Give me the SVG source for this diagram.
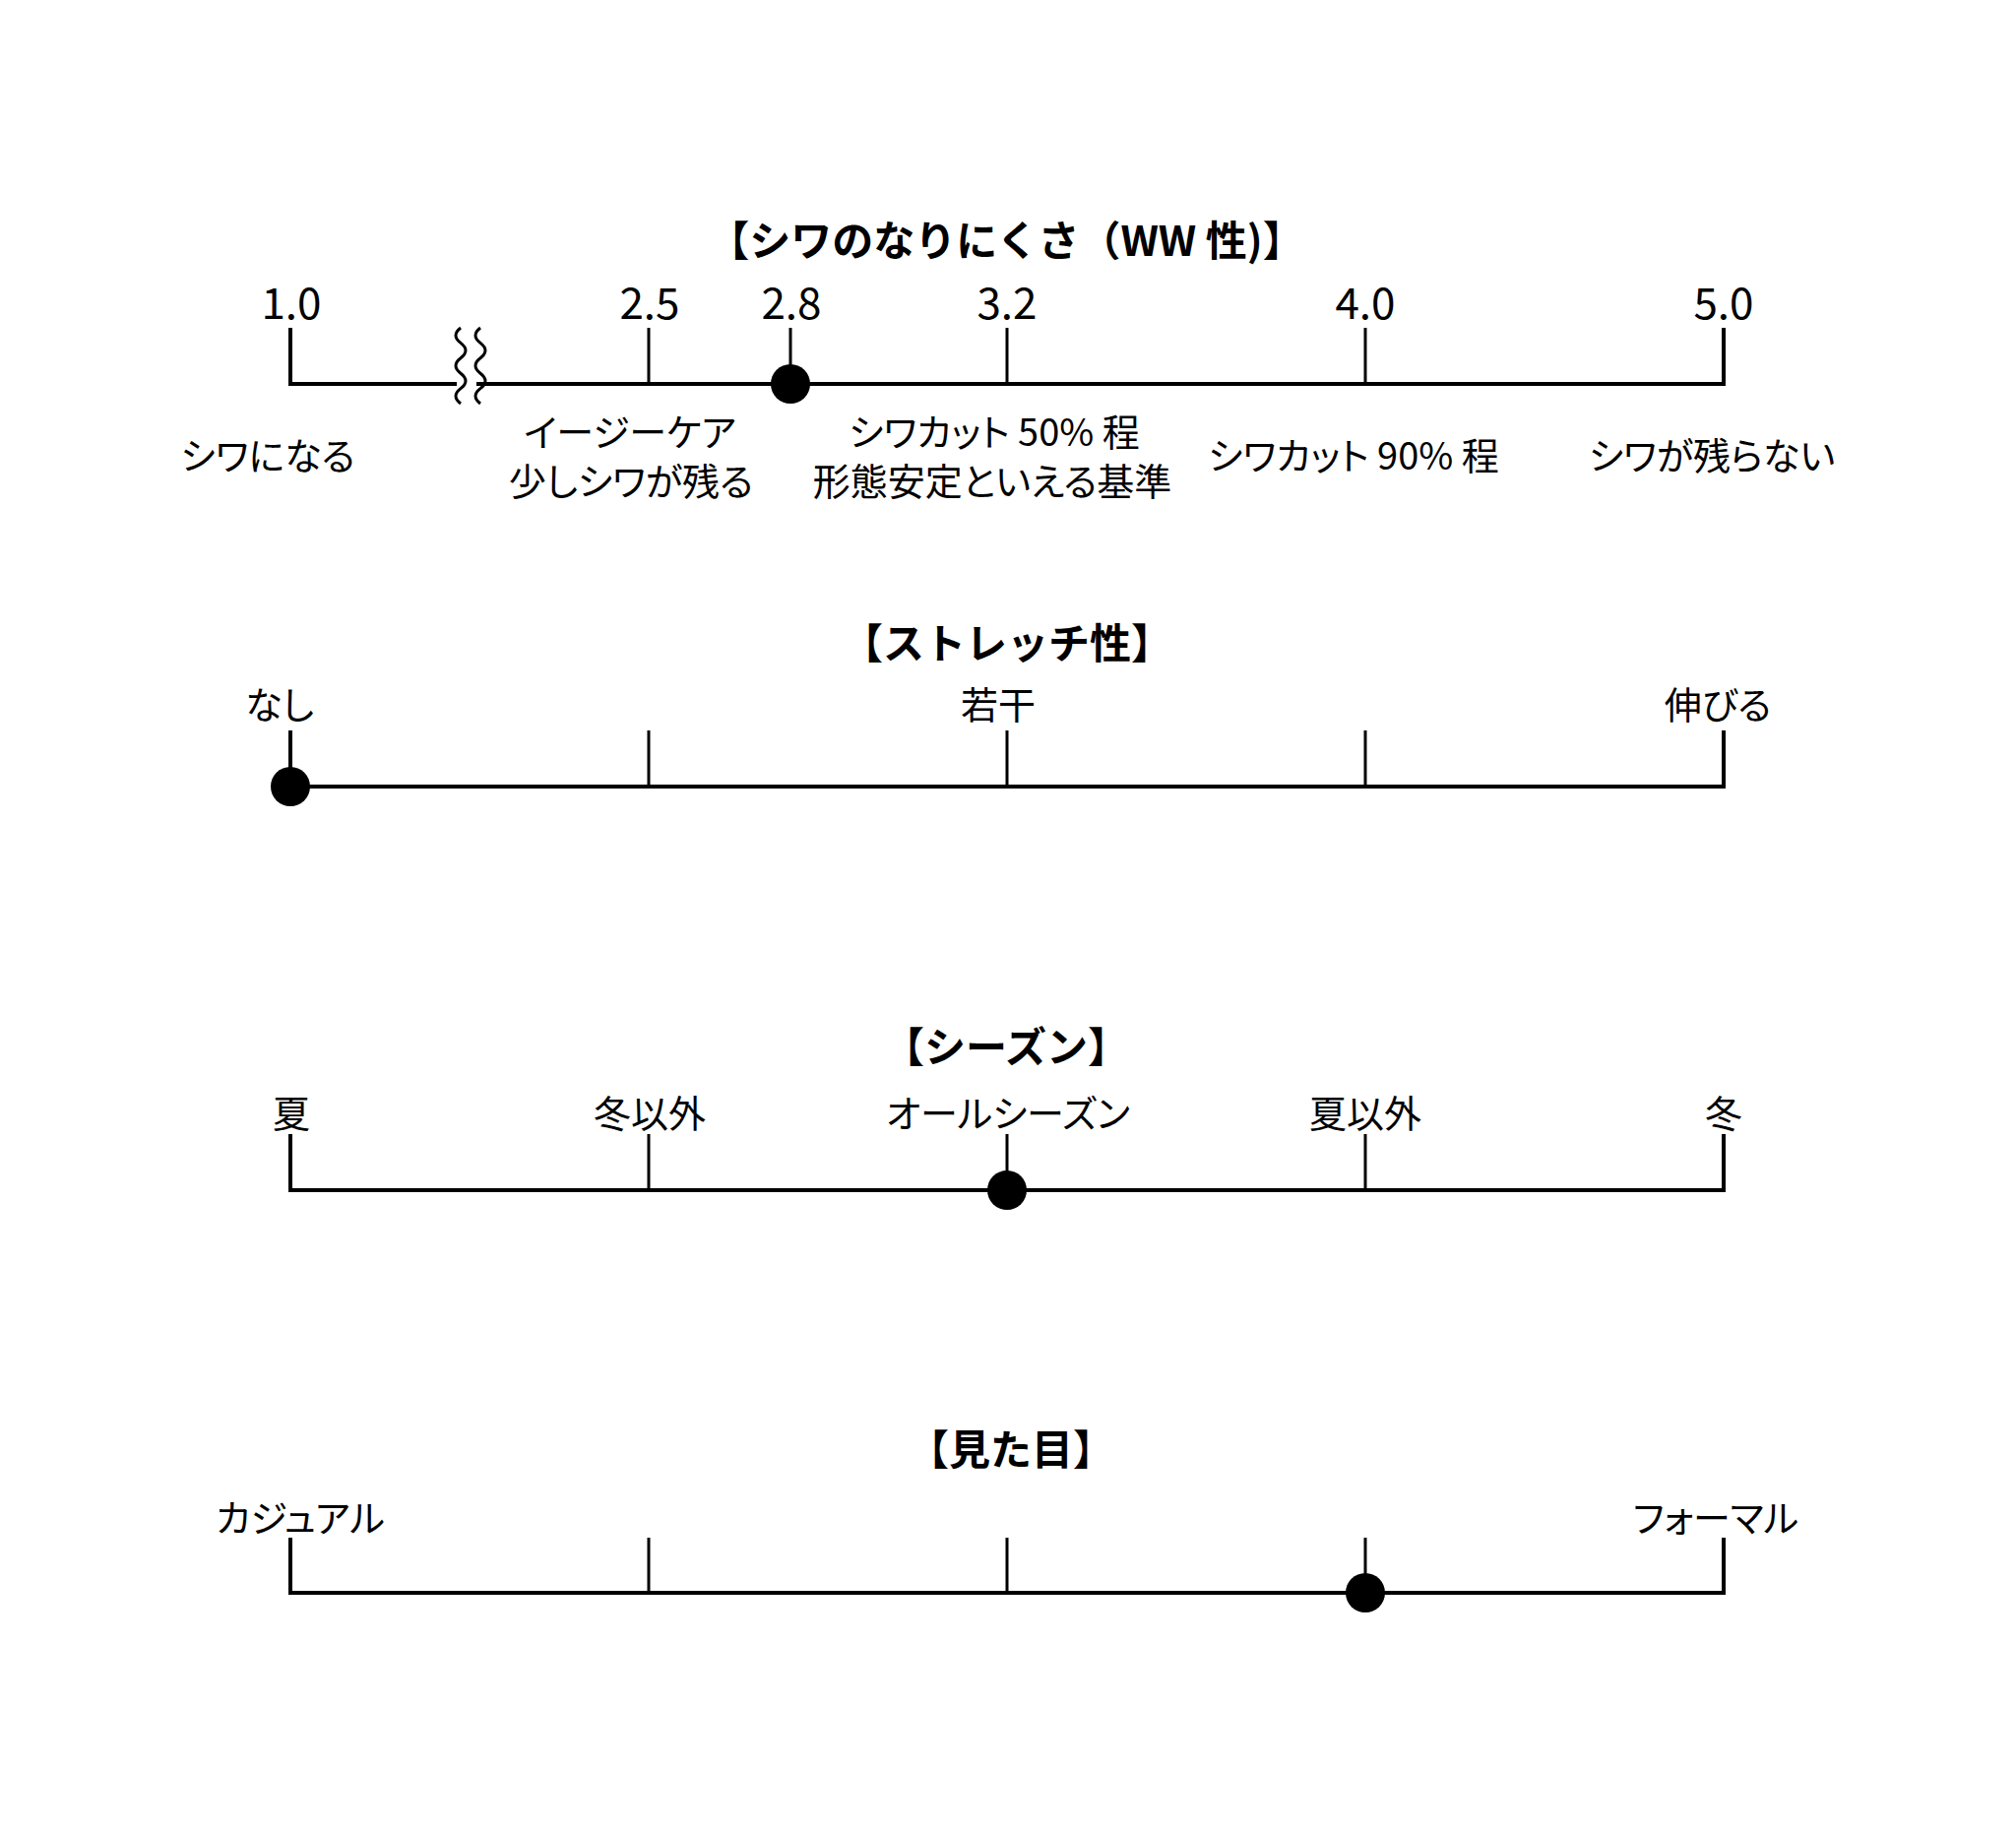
<svg xmlns="http://www.w3.org/2000/svg" width="2048" height="1862" viewBox="0 0 2048 1862">
  <style>
    .t { font-family: "Noto Sans CJK JP", "Noto Sans", sans-serif; font-size: 38px; fill: #000; text-anchor: middle; font-feature-settings: "palt"; }
    .n { font-family: "Noto Sans CJK JP", "Noto Sans", sans-serif; font-size: 44px; fill: #000; text-anchor: middle; }
    .h { font-family: "Noto Sans CJK JP", "Noto Sans", sans-serif; font-size: 42px; font-weight: 700; fill: #000; text-anchor: middle; }
    .ax { fill: none; stroke: #000; stroke-width: 4; stroke-linejoin: miter; stroke-linecap: butt; }
    .tk { fill: none; stroke: #000; stroke-width: 3; }
    .wv { fill: none; stroke: #000; stroke-width: 3; }
    .dot { fill: #000; }
  </style>
  <rect width="2048" height="1862" fill="#fff"/>

  <!-- Scale 1: wrinkle resistance -->
  <g id="scale-wrinkle">
    <text class="h" x="1022" y="260">【シワのなりにくさ（WW 性)】</text>
    <g id="axis-wrinkle">
      <path class="ax" d="M295 333 V390 H464"/>
      <path class="ax" d="M484 390 H1751 V333"/>
      <path class="tk" d="M659 333 V390 M803 333 V390 M1023 333 V390 M1387 333 V390"/>
      <path class="wv" d="M468 333 q -10 7.7 0 15.4 t 0 15.4 t 0 15.4 t 0 15.4 t 0 15.4"/>
      <path class="wv" d="M488 333 q -10 7.7 0 15.4 t 0 15.4 t 0 15.4 t 0 15.4 t 0 15.4"/>
      <circle class="dot" cx="803" cy="390" r="20"/>
    </g>
    <g id="ticks-wrinkle">
      <text class="n" x="296" y="324">1.0</text>
      <text class="n" x="660" y="324">2.5</text>
      <text class="n" x="804" y="324">2.8</text>
      <text class="n" x="1023" y="324">3.2</text>
      <text class="n" x="1387" y="324">4.0</text>
      <text class="n" x="1751" y="324">5.0</text>
    </g>
    <g id="desc-wrinkle">
      <text class="t" x="272" y="477">シワになる</text>
      <text class="t" x="640" y="453">イージーケア</text>
      <text class="t" x="641" y="503">少しシワが残る</text>
      <text class="t" x="1010" y="453">シワカット 50% 程</text>
      <text class="t" x="1008" y="503">形態安定といえる基準</text>
      <text class="t" x="1375" y="477">シワカット 90% 程</text>
      <text class="t" x="1739" y="477">シワが残らない</text>
    </g>
  </g>

  <!-- Scale 2: stretch -->
  <g id="scale-stretch">
    <text class="h" x="1023" y="669">【ストレッチ性】</text>
    <g id="axis-stretch">
      <path class="ax" d="M295 742 V799 H1751 V742"/>
      <path class="tk" d="M659 742 V799 M1023 742 V799 M1387 742 V799"/>
      <circle class="dot" cx="295" cy="799" r="20"/>
    </g>
    <text class="t" x="284" y="730">なし</text>
    <text class="t" x="1014" y="730">若干</text>
    <text class="t" x="1745" y="730">伸びる</text>
  </g>

  <!-- Scale 3: season -->
  <g id="scale-season">
    <text class="h" x="1022" y="1079">【シーズン】</text>
    <g id="axis-season">
      <path class="ax" d="M295 1152 V1209 H1751 V1152"/>
      <path class="tk" d="M659 1152 V1209 M1023 1152 V1209 M1387 1152 V1209"/>
      <circle class="dot" cx="1023" cy="1209" r="20"/>
    </g>
    <text class="t" x="296" y="1145">夏</text>
    <text class="t" x="660" y="1145">冬以外</text>
    <text class="t" x="1024" y="1145">オールシーズン</text>
    <text class="t" x="1387" y="1145">夏以外</text>
    <text class="t" x="1751" y="1145">冬</text>
  </g>

  <!-- Scale 4: appearance -->
  <g id="scale-look">
    <text class="h" x="1027" y="1488">【見た目】</text>
    <g id="axis-look">
      <path class="ax" d="M295 1562 V1618 H1751 V1562"/>
      <path class="tk" d="M659 1562 V1618 M1023 1562 V1618 M1387 1562 V1618"/>
      <circle class="dot" cx="1387" cy="1618" r="20"/>
    </g>
    <text class="t" x="305" y="1556">カジュアル</text>
    <text class="t" x="1743" y="1556">フォーマル</text>
  </g>
</svg>
